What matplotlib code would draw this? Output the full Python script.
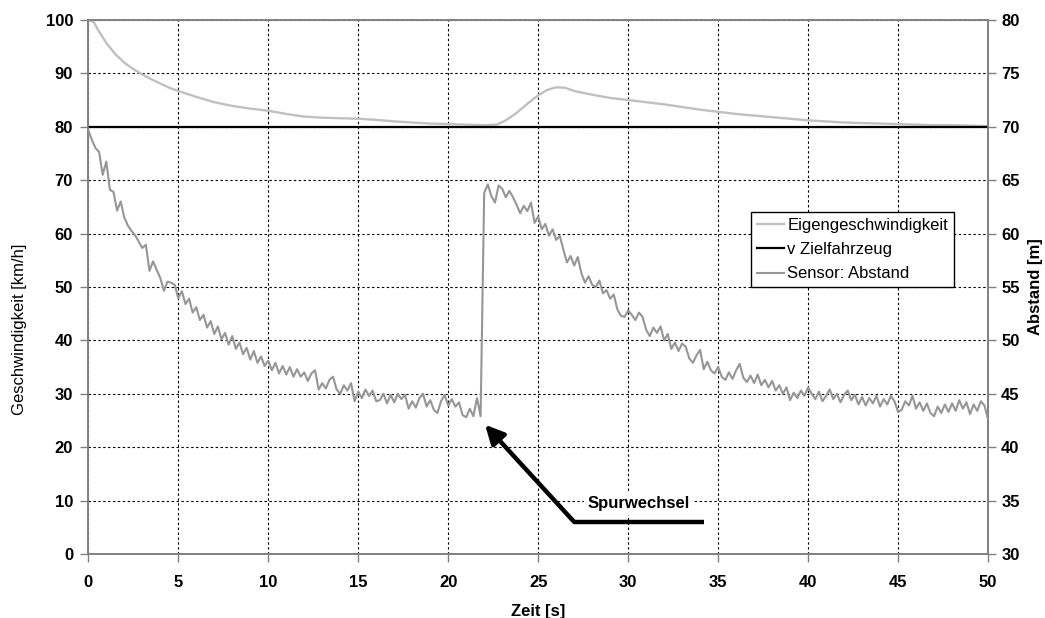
import matplotlib
matplotlib.use('Agg')
import matplotlib.pyplot as plt
from matplotlib.lines import Line2D
import numpy as np

plt.rcParams['font.family'] = ['Liberation Sans', 'DejaVu Sans']

# Eigengeschwindigkeit [km/h], read at key times
eigen_t = [0, 0.3, 0.6, 1, 1.5, 2, 2.5, 3, 3.5, 4, 4.5, 5, 6, 7, 8, 9, 10, 11, 12, 13, 14,
           15, 16, 17, 18, 19, 20, 21, 22, 22.7, 23.2, 23.8, 24.4, 25, 25.5, 26, 26.5, 27,
           28, 29, 30, 31, 32, 33, 34, 35, 36, 37, 38, 39, 40, 41, 42, 43, 44, 45, 46, 47,
           48, 49, 50]
eigen_v = [100, 99.6, 97.8, 95.7, 93.6, 92.0, 90.8, 89.8, 88.9, 88.1, 87.3, 86.7, 85.6,
           84.6, 83.9, 83.4, 83.0, 82.4, 81.9, 81.7, 81.6, 81.5, 81.3, 81.0, 80.8, 80.6,
           80.5, 80.4, 80.3, 80.4, 81.2, 82.6, 84.3, 85.9, 86.9, 87.4, 87.3, 86.7, 86.0,
           85.4, 85.0, 84.6, 84.2, 83.7, 83.2, 82.8, 82.4, 82.1, 81.8, 81.5, 81.2, 81.0,
           80.8, 80.7, 80.6, 80.5, 80.4, 80.3, 80.3, 80.2, 80.1]

# v Zielfahrzeug [km/h]
ziel_t = [0, 50]
ziel_v = [80, 80]

# Sensor: Abstand [m], one value every 0.2 s from 0 to 50 s
abstand = [
    69.7, 68.75, 68.0, 67.65, 65.5, 66.75, 64.1, 63.9, 62.15, 63.0, 61.5, 60.75, 60.25,
    59.85, 59.25, 58.65, 58.95, 56.5, 57.4, 56.6, 55.85, 54.65, 55.5, 55.4, 55.2, 53.95,
    54.6, 53.4, 53.9, 52.6, 53.1, 51.9, 52.4, 51.2, 51.8, 50.6, 51.3, 50.1, 50.7, 49.6,
    50.4, 49.2, 49.8, 48.7, 49.3, 48.2, 49.0, 47.9, 48.5, 47.6, 48.1, 47.2, 47.9, 46.9,
    47.6, 46.8, 47.5, 46.6, 47.3, 46.6,
    47.0, 46.2, 46.9, 47.2, 45.4, 46.0, 45.5, 46.3, 46.6, 45.4, 45.0, 45.8, 45.3, 46.0,
    44.3, 45.2, 44.6, 45.4, 44.8, 45.3, 44.3, 44.4, 45.0, 44.1, 44.9, 44.2, 45.0, 44.5,
    44.9, 43.6, 44.3, 43.7, 44.6, 45.0, 43.8, 44.4, 43.5, 43.2, 44.3, 44.9, 43.9, 44.5,
    43.8, 44.2, 43.0, 42.8, 43.6, 42.9, 44.6, 42.9,
    63.8, 64.6, 63.5, 62.9, 64.5, 64.2, 63.4, 64.0, 63.4, 62.7, 61.9, 62.6, 62.1, 62.9,
    61.0, 61.6, 60.4, 60.9, 59.8, 60.4, 59.4, 59.8, 58.5, 57.3, 57.9, 57.0, 57.8, 56.3,
    55.4, 56.0, 55.2, 55.0, 55.6, 54.4, 54.7, 53.9, 54.3, 52.9, 52.3, 52.2, 52.8, 52.4,
    51.9, 52.6, 52.2, 51.0, 50.4, 51.2, 50.7, 51.3, 50.0, 50.6, 49.2, 49.8, 49.0, 49.7,
    49.4, 48.3, 47.9, 48.6, 49.1,
    47.3, 48.0, 47.2, 46.9, 47.5, 46.6, 46.3, 47.0, 46.4, 47.2, 47.8, 46.5, 46.1, 46.7,
    46.0, 46.8, 45.8, 46.3, 45.6, 46.2, 45.3, 45.8, 45.0, 45.6, 44.4, 45.1, 44.6, 45.3,
    44.8, 45.6, 45.0, 44.5, 45.2, 44.3, 44.8, 45.4, 44.5, 45.0, 44.2, 44.9, 45.3, 44.4,
    44.9, 44.0, 44.7, 43.9, 44.6, 44.1, 44.8, 43.8, 44.5, 44.0, 44.8, 44.3, 43.3, 43.5,
    44.3, 43.9, 44.8, 43.6, 44.2, 43.4, 44.1, 43.2, 42.9, 43.8, 43.2, 44.0, 43.3, 44.1,
    43.4, 44.4, 43.6, 44.2, 43.1, 44.0, 43.4, 44.3, 43.9, 42.6,
]
abstand_t = np.linspace(0, 50, len(abstand))

x_ticks = [0, 5, 10, 15, 20, 25, 30, 35, 40, 45, 50]
y_ticks = [0, 10, 20, 30, 40, 50, 60, 70, 80, 90, 100]
y2_ticks = [30, 35, 40, 45, 50, 55, 60, 65, 70, 75, 80]

c_eigen = '#c0c0c0'
c_ziel = '#000000'
c_sensor = '#969696'
c_axis = '#808080'

fig = plt.figure(figsize=(10.45, 6.18), dpi=100)
ax = fig.add_axes([0.0845, 0.1036, 0.861, 0.8641])
ax2 = ax.twinx()

ax.plot(eigen_t, eigen_v, color=c_eigen, lw=1.7, zorder=3)
ax.plot(ziel_t, ziel_v, color=c_ziel, lw=1.6, zorder=4)
ax2.plot(abstand_t, abstand, color=c_sensor, lw=1.5, zorder=3)

ax.set_xlim(0, 50)
ax.set_ylim(0, 100)
ax2.set_ylim(30, 80)
ax.set_xticks(x_ticks)
ax.set_yticks(y_ticks)
ax2.set_yticks(y2_ticks)

ax.grid(True, color='black', linestyle=(0, (2.2, 2.2)), lw=0.8)
ax.set_axisbelow(True)

for a in (ax, ax2):
    for s in a.spines.values():
        s.set_color(c_axis)
        s.set_linewidth(1.2)
    a.tick_params(direction='out', length=6, width=1, color=c_axis, labelsize=12)
    for lbl in a.get_xticklabels() + a.get_yticklabels():
        lbl.set_fontweight('bold')
ax.tick_params(axis='x', pad=9)
ax.tick_params(axis='y', pad=5)

ax.set_xlabel('Zeit [s]', fontsize=12, fontweight='bold', labelpad=10)
ax.set_ylabel('Geschwindigkeit [km/h]', fontsize=12)
ax.yaxis.set_label_coords(-0.068, 0.42)
ax2.set_ylabel('Abstand [m]', fontsize=12, fontweight='bold', labelpad=6)

# Spurwechsel annotation
ax.plot([27, 34.2], [6, 6], color='black', lw=3.2, solid_capstyle='butt', zorder=5)
ax.annotate('', xy=(22.05, 24.2), xytext=(27, 6),
            arrowprops=dict(arrowstyle='-|>', color='black', lw=3.2,
                            mutation_scale=28, shrinkA=0, shrinkB=0), zorder=5)
ax.text(30.6, 9.5, 'Spurwechsel', fontsize=12, fontweight='bold',
        ha='center', va='center', zorder=5,
        bbox=dict(facecolor='white', edgecolor='none', pad=3))

handles = [Line2D([], [], color=c_eigen, lw=1.7),
           Line2D([], [], color=c_ziel, lw=1.6),
           Line2D([], [], color=c_sensor, lw=1.5)]
labels = ['Eigengeschwindigkeit', 'v Zielfahrzeug', 'Sensor: Abstand']
leg = ax2.legend(handles, labels, loc='upper left', bbox_to_anchor=(0.737, 0.640),
                 fontsize=12, frameon=True, fancybox=False, shadow=False,
                 borderpad=0.35, labelspacing=0.55, handlelength=1.6,
                 handletextpad=0.2, borderaxespad=0)
leg.get_frame().set_edgecolor('black')
leg.get_frame().set_linewidth(1.0)
leg.get_frame().set_alpha(1)

fig.savefig('out.png', dpi=100)
